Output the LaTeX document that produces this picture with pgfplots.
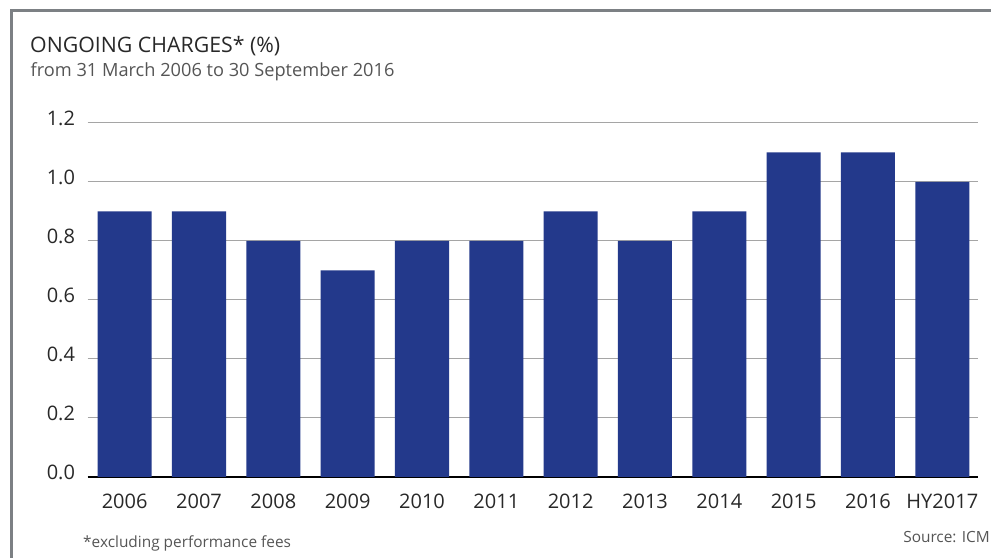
\documentclass[border=0pt]{standalone}
\usepackage{fontspec}
\setmainfont{Open Sans}
\usepackage{pgfplots}
\pgfplotsset{compat=1.18}

\definecolor{barblue}{RGB}{35,57,139}
\definecolor{framegray}{RGB}{124,128,132}
\definecolor{gridgray}{RGB}{165,165,165}
\definecolor{txtdark}{RGB}{40,40,40}
\definecolor{txtgray}{RGB}{85,85,85}

\begin{document}
\begin{tikzpicture}
\useasboundingbox (-87.5bp,-81bp) rectangle (903.5bp,477bp);
% outer frame (top and left only)
\draw[framegray, line width=3bp] (-76bp,-81bp) -- (-76bp,466bp) -- (903.5bp,466bp);
\node[anchor=base west, inner sep=0, text=txtdark, font=\fontsize{21.3bp}{25bp}\selectfont]
  at (-57.5bp,424bp) {ONGOING CHARGES* (\%)};
\node[anchor=base west, inner sep=0, text=txtgray, font=\fontsize{18.2bp}{21bp}\selectfont]
  at (-57bp,400bp) {from 31 March 2006 to 30 September 2016};
\node[anchor=base west, inner sep=0, text=txtgray, font=\fontsize{15.4bp}{18bp}\selectfont]
  at (-4.5bp,-70bp) {*excluding performance fees};
\node[anchor=base east, inner sep=0, text=txtgray, font=\fontsize{15.4bp}{18bp}\selectfont]
  at (902.5bp,-65bp) {Source: ICM};
\begin{axis}[
    at={(0,0)}, anchor=south west,
    scale only axis,
    width=890.5bp, height=354bp,
    xmin=-0.5, xmax=11.48,
    ymin=0, ymax=1.2,
    axis x line=bottom, axis y line=left,
    x axis line style={-, black, line width=2bp},
    y axis line style={draw=none},
    major tick length=0,
    xtick={0,...,11},
    xticklabels={2006,2007,2008,2009,2010,2011,2012,2013,2014,2015,2016,HY2017},
    ytick={0,0.2,0.4,0.6,0.8,1.0,1.2},
    /pgf/number format/fixed,
    /pgf/number format/fixed zerofill,
    /pgf/number format/precision=1,
    /pgf/number format/assume math mode=true,
    ymajorgrids,
    grid style={gridgray, line width=1bp},
    xticklabel style={font=\fontsize{20bp}{24bp}\selectfont, text=txtdark, yshift=-13bp},
    yticklabel style={font=\fontsize{20bp}{24bp}\selectfont, text=txtdark, xshift=-9bp, yshift=5bp},
]
\addplot[ybar, bar width=54bp, fill=barblue, draw=none] coordinates {
  (0,0.9) (1,0.9) (2,0.8) (3,0.7) (4,0.8) (5,0.8)
  (6,0.9) (7,0.8) (8,0.9) (9,1.1) (10,1.1) (11,1.0)
};
\end{axis}
\end{tikzpicture}
\end{document}
